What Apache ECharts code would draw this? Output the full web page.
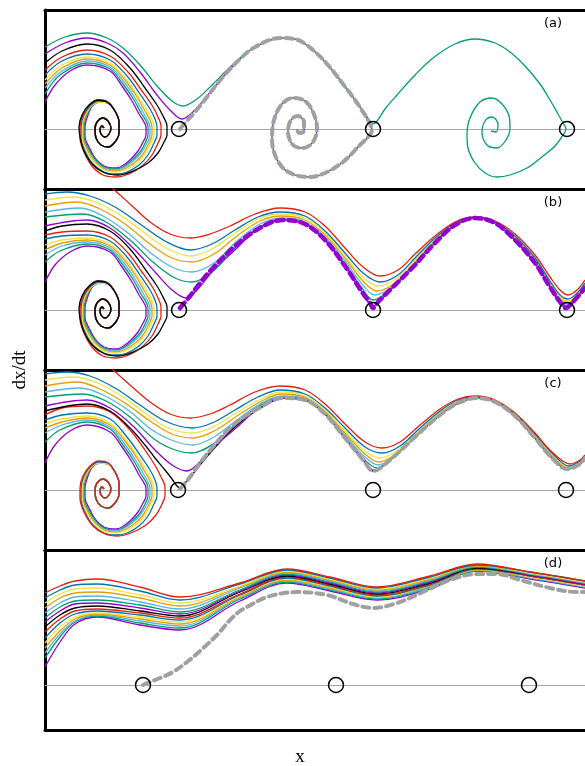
<!DOCTYPE html>
<html><head><meta charset="utf-8">
<script src="https://cdn.jsdelivr.net/npm/echarts@6/dist/echarts.min.js"></script>
<style>html,body{margin:0;padding:0;background:#fff}#c{width:585px;height:766px}</style>
</head><body><div id="c"></div><script>
// x: position along the axis, v: dx/dt (chart units)
// ---------- panel (a) ----------
const aGreenTop=[[45,82],[65,92],[87,96],[107,91],[123,81],[140,64],[157,43],[172,28],[183,23],[197,30],[213,45],[227,59],[240,71],[255,82],[280,91],[298,89],[313,79],[328,64],[343,45],[355,29],[365,15],[370,8],[373,5],[377,8],[385,20],[397,34],[415,54],[433,71],[455,85],[475,90],[495,86],[510,77],[525,63],[540,45],[550,29],[558,15],[563,6],[566,0],[563,-6],[555,-17],[543,-27],[527,-39],[510,-46],[497,-48],[485,-44],[475,-34],[468,-19],[467,-6],[470,11],[480,27],[492,31],[502,25],[509,13],[510,1],[506,-11],[497,-19],[487,-16],[482,-3],[485,8],[492,12],[498,5],[496,-3],[491,-2]];
const aPurpleTop=[[45,75],[65,86],[87,91],[107,86],[123,76],[140,57],[157,34],[170,19],[182,10],[193,17],[207,33],[222,51],[240,70],[255,82],[280,91],[298,89],[313,79],[328,64],[343,45],[355,29],[365,14],[370,5],[372,-1],[368,-8],[360,-16],[343,-33],[325,-44],[310,-48],[295,-46],[283,-39],[275,-26],[272,-11],[274,9],[282,25],[293,31],[305,28],[313,17],[317,1],[313,-13],[303,-19],[293,-16],[288,-3],[291,9],[298,13],[304,7],[304,-2],[299,-4],[297,0]];
const aManifold=[[180,0],[185,6],[195,17],[207,32],[222,51],[240,70],[255,82],[280,91],[298,89],[313,79],[328,64],[343,45],[355,29],[365,14],[370,5],[372,-1],[368,-8],[360,-16],[343,-33],[325,-44],[310,-48],[295,-46],[283,-39],[275,-26],[272,-11],[274,9],[282,25],[293,31],[305,28],[313,17],[317,1],[313,-13],[303,-19],[293,-16],[288,-3],[291,9],[298,13],[304,7],[304,-2],[299,-4],[297,0]];
const aBlack=[[45,66],[62,78],[87,85],[110,79],[130,61],[145,41],[157,24],[163,13],[167,3],[167,-6],[164,-13],[158,-24],[148,-34],[133,-42],[118,-46],[105,-44],[93,-36],[84,-22],[80,-8],[79,2],[82,14],[89,24],[98,29],[107,27],[115,18],[119,7],[119,-4],[115,-13],[108,-18],[101,-16],[96,-9],[95,0],[97,7],[103,11],[108,8],[111,1],[109,-5],[105,-8],[101,-5],[100,0],[102,3],[104,1]];
const aRed=[[45,59],[62,72],[87,79],[110,73],[128,57],[142,38],[153,22],[158,12],[161,3],[161,-6],[158,-14],[152,-26],[142,-37],[129,-45],[116,-48],[103,-46],[92,-37],[84,-23],[80,-9],[80,2],[83,14],[90,24],[99,29],[108,27],[115,18],[119,7],[119,-4],[115,-13],[108,-18],[101,-16],[96,-9],[95,0],[97,7],[103,11],[108,8],[111,1],[109,-5],[105,-8],[101,-5],[100,0],[102,3],[104,1]];
const aBlue=[[45,54],[62,68],[87,75],[110,69],[127,53],[140,35],[150,20],[155,10],[157,2],[157,-6],[154,-14],[148,-26],[139,-36],[127,-43],[116,-45],[104,-43],[93,-35],[85,-22],[81,-9],[81,2],[84,14],[91,24],[99,28],[108,27],[115,18],[119,7],[119,-4],[115,-13],[108,-18],[101,-16],[96,-9],[95,0],[97,7],[103,11],[108,8],[111,1],[109,-5],[105,-8],[101,-5],[100,0],[102,3],[104,1]];
const aYellow=[[45,49],[62,64],[87,72],[110,66],[126,50],[138,33],[147,19],[152,9],[154,2],[154,-6],[151,-14],[145,-25],[136,-35],[125,-41],[116,-43],[104,-41],[94,-33],[86,-21],[82,-9],[82,2],[85,14],[92,24],[99,27],[108,26],[115,18],[119,7],[119,-4],[115,-13],[108,-18],[101,-16],[96,-9],[95,0],[97,7],[103,11],[108,8],[111,1],[109,-5],[105,-8],[101,-5],[100,0],[102,3],[104,1]];
const aOrange=[[45,45],[62,61],[87,70],[110,64],[125,49],[137,32],[145,18],[150,9],[152,2],[152,-6],[149,-14],[143,-25],[134,-34],[124,-40],[116,-42],[104,-40],[94,-32],[87,-20],[83,-8],[83,2],[86,14],[92,24],[99,27],[108,26],[115,18],[119,7],[119,-4],[115,-13],[108,-18],[101,-16],[96,-9],[95,0],[97,7],[103,11],[108,8],[111,1],[109,-5],[105,-8],[101,-5],[100,0],[102,3],[104,1]];
const aSky=[[45,41],[62,58],[87,68],[110,62],[124,47],[135,31],[143,17],[148,8],[150,2],[150,-6],[147,-14],[141,-24],[132,-33],[123,-39],[116,-41],[104,-39],[94,-31],[87,-20],[83,-8],[83,2],[86,14],[92,24],[99,27],[108,26],[115,18],[119,7],[119,-4],[115,-13],[108,-18],[101,-16],[96,-9],[95,0],[97,7],[103,11],[108,8],[111,1],[109,-5],[105,-8],[101,-5],[100,0],[102,3],[104,1]];
const aGreen=[[45,35],[60,54],[87,66],[110,60],[123,45],[134,29],[141,16],[146,8],[148,2],[148,-6],[145,-14],[140,-23],[131,-32],[123,-38],[116,-40],[104,-38],[95,-30],[88,-19],[84,-8],[84,2],[87,14],[93,24],[99,27],[108,26],[115,18],[119,7],[119,-4],[115,-13],[108,-18],[101,-16],[96,-9],[95,0],[97,7],[103,11],[108,8],[111,1],[109,-5],[105,-8],[101,-5],[100,0],[102,3],[104,1]];
const aPurple=[[45,27],[55,44],[70,58],[87,64],[110,58],[122,43],[132,28],[139,15],[144,7],[146,2],[146,-6],[143,-13],[138,-22],[130,-31],[122,-37],[116,-39],[104,-37],[95,-29],[89,-18],[85,-8],[85,2],[88,14],[93,24],[100,27],[108,26],[115,18],[119,7],[119,-4],[115,-13],[108,-18],[101,-16],[96,-9],[95,0],[97,7],[103,11],[108,8],[111,1],[109,-5],[105,-8],[101,-5],[100,0],[102,3],[104,1]];
const saddlesA=[[179,0],[373,0],[567,0]];
// ---------- panel (b) ----------
const bRedTop=[[45,135],[70,140],[90,138],[113,121],[130,106],[150,88],[170,76],[190,72],[210,76],[230,84],[255,96],[280,102],[305,98],[325,84],[345,62],[362,44],[380,34],[398,40],[415,56],[435,74],[455,88],[475,93],[495,89],[515,76],[535,55],[550,33],[560,20],[568,15],[577,20],[585,30]];
const bBlueTop=[[45,116],[67,118],[90,114],[115,103],[140,86],[165,69],[190,60],[212,66],[235,80],[258,93],[280,98],[305,94],[325,79],[345,57],[363,37],[380,28],[398,35],[415,52],[435,72],[455,87],[475,92],[495,88],[515,74],[535,52],[550,29],[560,15],[568,11],[577,17],[585,27]];
const bYellowTop=[[45,110],[73,113],[95,108],[120,95],[145,77],[168,61],[190,54],[212,61],[235,77],[258,91],[280,96],[305,92],[325,77],[345,54],[363,33],[378,24],[396,31],[415,50],[435,71],[455,87],[475,92],[495,88],[515,73],[535,51],[550,28],[560,13],[568,9],[577,16],[585,26]];
const bOrangeTop=[[45,104],[77,108],[100,101],[125,86],[150,66],[172,52],[192,48],[214,56],[237,74],[260,89],[281,94],[305,90],[325,75],[345,52],[362,30],[377,19],[395,27],[415,48],[435,70],[455,86],[475,92],[495,87],[515,72],[535,50],[550,27],[560,12],[567,7],[576,14],[585,25]];
const bSkyTop=[[45,98],[80,102],[103,94],[128,77],[152,56],[174,42],[192,38],[214,47],[237,69],[260,86],[282,92],[305,88],[325,73],[345,49],[362,26],[375,15],[393,24],[415,46],[435,69],[455,86],[475,92],[495,87],[515,72],[535,49],[550,26],[560,10],[567,6],[576,13],[585,24]];
const bGreenTop=[[45,93],[83,96],[106,88],[130,70],[154,47],[175,32],[192,28],[212,38],[235,62],[258,82],[282,91],[305,87],[325,71],[345,46],[362,22],[373,10],[390,20],[413,44],[435,68],[455,85],[475,92],[495,87],[515,71],[535,48],[550,25],[560,9],[567,4],[576,12],[585,23]];
const bPurpleTop=[[45,84],[87,90],[110,82],[133,62],[155,38],[172,20],[186,12],[197,20],[212,38],[235,60],[258,81],[283,90],[305,86],[325,70],[345,44],[362,18],[373,4],[388,18],[413,43],[435,67],[455,85],[475,92],[495,87],[515,70],[535,47],[550,23],[560,7],[567,2],[576,11],[585,22]];
const bManifold=[[180,2],[190,14],[200,27],[212,41],[233,62],[258,81],[283,90],[305,86],[325,70],[345,44],[362,18],[370,7],[373,2],[378,8],[390,20],[413,43],[435,67],[455,85],[475,92],[495,87],[515,70],[535,47],[550,23],[560,8],[566,2],[572,7],[585,22]];
const bBlack=[[45,79],[62,84],[87,86],[110,79],[130,61],[145,41],[157,24],[163,13],[167,3],[167,-6],[164,-13],[158,-24],[148,-34],[133,-42],[118,-46],[105,-44],[93,-36],[84,-22],[80,-8],[79,2],[82,14],[89,24],[98,29],[107,27],[115,18],[119,7],[119,-4],[115,-13],[108,-18],[101,-16],[96,-9],[95,0],[97,7],[103,11],[108,8],[111,1],[109,-5],[105,-8],[101,-5],[100,0],[102,3],[104,1]];
const bRed=[[45,75],[62,78],[87,79],[110,73],[128,57],[142,38],[153,22],[158,12],[161,3],[161,-6],[158,-14],[152,-26],[142,-37],[129,-45],[116,-48],[103,-46],[92,-37],[84,-23],[80,-9],[80,2],[83,14],[90,24],[99,29],[108,27],[115,18],[119,7],[119,-4],[115,-13],[108,-18],[101,-16],[96,-9],[95,0],[97,7],[103,11],[108,8],[111,1],[109,-5],[105,-8],[101,-5],[100,0],[102,3],[104,1]];
const bBlue=[[45,71],[62,74],[87,75],[110,69],[127,53],[140,35],[150,20],[155,10],[157,2],[157,-6],[154,-14],[148,-26],[139,-36],[127,-43],[116,-45],[104,-43],[93,-35],[85,-22],[81,-9],[81,2],[84,14],[91,24],[99,28],[108,27],[115,18],[119,7],[119,-4],[115,-13],[108,-18],[101,-16],[96,-9],[95,0],[97,7],[103,11],[108,8],[111,1],[109,-5],[105,-8],[101,-5],[100,0],[102,3],[104,1]];
const bYellow=[[45,65],[62,70],[87,72],[110,66],[126,50],[138,33],[147,19],[152,9],[154,2],[154,-6],[151,-14],[145,-25],[136,-35],[125,-41],[116,-43],[104,-41],[94,-33],[86,-21],[82,-9],[82,2],[85,14],[92,24],[99,27],[108,26],[115,18],[119,7],[119,-4],[115,-13],[108,-18],[101,-16],[96,-9],[95,0],[97,7],[103,11],[108,8],[111,1],[109,-5],[105,-8],[101,-5],[100,0],[102,3],[104,1]];
const bOrange=[[45,60],[62,67],[87,70],[110,64],[125,49],[137,32],[145,18],[150,9],[152,2],[152,-6],[149,-14],[143,-25],[134,-34],[124,-40],[116,-42],[104,-40],[94,-32],[87,-20],[83,-8],[83,2],[86,14],[92,24],[99,27],[108,26],[115,18],[119,7],[119,-4],[115,-13],[108,-18],[101,-16],[96,-9],[95,0],[97,7],[103,11],[108,8],[111,1],[109,-5],[105,-8],[101,-5],[100,0],[102,3],[104,1]];
const bSky=[[45,55],[62,64],[87,68],[110,62],[124,47],[135,31],[143,17],[148,8],[150,2],[150,-6],[147,-14],[141,-24],[132,-33],[123,-39],[116,-41],[104,-39],[94,-31],[87,-20],[83,-8],[83,2],[86,14],[92,24],[99,27],[108,26],[115,18],[119,7],[119,-4],[115,-13],[108,-18],[101,-16],[96,-9],[95,0],[97,7],[103,11],[108,8],[111,1],[109,-5],[105,-8],[101,-5],[100,0],[102,3],[104,1]];
const bGreen=[[45,48],[60,59],[87,66],[110,60],[123,45],[134,29],[141,16],[146,8],[148,2],[148,-6],[145,-14],[140,-23],[131,-32],[123,-38],[116,-40],[104,-38],[95,-30],[88,-19],[84,-8],[84,2],[87,14],[93,24],[99,27],[108,26],[115,18],[119,7],[119,-4],[115,-13],[108,-18],[101,-16],[96,-9],[95,0],[97,7],[103,11],[108,8],[111,1],[109,-5],[105,-8],[101,-5],[100,0],[102,3],[104,1]];
const bPurple=[[45,28],[55,45],[70,58],[87,64],[110,58],[122,43],[132,28],[139,15],[144,7],[146,2],[146,-6],[143,-13],[138,-22],[130,-31],[122,-37],[116,-39],[104,-37],[95,-29],[89,-18],[85,-8],[85,2],[88,14],[93,24],[100,27],[108,26],[115,18],[119,7],[119,-4],[115,-13],[108,-18],[101,-16],[96,-9],[95,0],[97,7],[103,11],[108,8],[111,1],[109,-5],[105,-8],[101,-5],[100,0],[102,3],[104,1]];
const saddlesB=[[179,0],[373,0],[567,0]];
// ---------- panel (c) ----------
const cRedTop=[[45,135],[70,140],[90,138],[113,120],[130,105],[150,88],[170,76],[190,72],[210,76],[230,85],[255,98],[280,104],[305,100],[325,86],[345,66],[365,48],[382,42],[400,48],[420,65],[440,81],[458,91],[475,94],[495,90],[515,77],[535,57],[552,38],[570,26],[580,30],[585,35]];
const cBlueTop=[[45,116],[67,118],[90,114],[115,102],[140,85],[165,69],[192,62],[212,67],[235,80],[258,93],[280,100],[305,96],[325,82],[345,62],[365,43],[382,37],[400,44],[420,62],[440,79],[458,90],[476,93],[495,89],[515,76],[535,56],[552,37],[569,24],[580,29],[585,34]];
const cYellowTop=[[45,110],[73,113],[95,108],[120,95],[145,77],[168,62],[193,57],[213,63],[236,77],[259,90],[281,98],[305,94],[325,80],[345,59],[365,39],[380,32],[398,40],[420,60],[440,78],[458,89],[476,93],[495,89],[515,76],[535,55],[552,36],[569,23],[580,28],[585,33]];
const cOrangeTop=[[45,104],[77,108],[100,101],[125,87],[150,69],[172,56],[193,52],[214,59],[237,74],[260,88],[281,96],[305,93],[325,79],[345,57],[365,36],[379,28],[397,37],[420,59],[440,77],[458,88],[476,93],[495,89],[515,75],[535,54],[552,35],[568,22],[580,27],[585,33]];
const cSkyTop=[[45,98],[80,102],[103,95],[128,80],[152,60],[174,49],[193,45],[214,53],[237,70],[260,86],[282,94],[305,92],[325,78],[345,55],[364,34],[378,25],[396,35],[420,58],[440,76],[458,88],[476,93],[495,88],[515,75],[535,54],[552,34],[568,22],[580,27],[585,32]];
const cGreenTop=[[45,93],[83,96],[106,89],[130,73],[154,51],[175,40],[192,37],[213,46],[236,66],[259,84],[282,93],[305,91],[325,77],[345,53],[364,31],[377,22],[394,33],[418,56],[440,75],[458,88],[476,92],[495,88],[515,74],[535,53],[552,33],[568,21],[580,26],[585,32]];
const cPurpleTop=[[45,84],[87,90],[110,82],[133,64],[155,40],[172,25],[187,19],[200,28],[215,44],[236,62],[259,82],[283,92],[305,90],[325,76],[345,52],[364,29],[374,20],[390,30],[415,53],[440,75],[458,87],[477,92],[495,88],[515,74],[535,52],[552,32],[567,21],[580,26],[585,32]];
const cBlackSep=[[45,79],[87,86],[110,79],[130,62],[145,45],[155,32],[165,20],[172,11],[177,4],[180,2],[184,6],[192,15],[205,31],[220,48],[236,64],[259,81],[283,92],[305,90],[325,76],[345,52],[364,29],[373,19],[390,30],[415,53],[440,75],[458,87],[477,92],[495,88],[515,74],[535,52],[552,32],[567,21],[580,26],[585,32]];
const cManifold=[[180,1],[190,13],[200,27],[212,42],[233,65],[259,82],[283,92],[305,90],[325,76],[345,52],[364,29],[373,19],[390,30],[415,53],[440,75],[458,87],[477,92],[495,88],[515,74],[535,52],[552,32],[567,21],[580,26],[585,32]];
const cRed=[[45,75],[62,82],[87,84],[110,78],[130,60],[145,40],[156,23],[161,13],[165,3],[165,-6],[162,-14],[156,-25],[146,-35],[131,-43],[118,-46],[105,-44],[93,-36],[84,-22],[80,-8],[80,2],[83,14],[90,24],[99,29],[108,27],[115,18],[119,7],[119,-4],[115,-13],[108,-18],[101,-16],[96,-9],[95,0],[97,7],[103,11],[108,8],[111,1],[109,-5],[105,-8],[101,-5],[100,0],[102,3],[104,1]];
const cBlue=[[45,70],[62,75],[87,77],[110,71],[127,53],[140,35],[150,20],[155,10],[157,2],[157,-6],[154,-14],[148,-26],[139,-36],[127,-43],[116,-45],[104,-43],[93,-35],[85,-22],[81,-9],[81,2],[84,14],[91,24],[99,28],[108,27],[115,18],[119,7],[119,-4],[115,-13],[108,-18],[101,-16],[96,-9],[95,0],[97,7],[103,11],[108,8],[111,1],[109,-5],[105,-8],[101,-5],[100,0],[102,3],[104,1]];
const cYellow=[[45,66],[62,71],[87,74],[110,67],[126,50],[138,33],[147,19],[152,9],[154,2],[154,-6],[151,-14],[145,-25],[136,-35],[125,-41],[116,-43],[104,-41],[94,-33],[86,-21],[82,-9],[82,2],[85,14],[92,24],[99,27],[108,26],[115,18],[119,7],[119,-4],[115,-13],[108,-18],[101,-16],[96,-9],[95,0],[97,7],[103,11],[108,8],[111,1],[109,-5],[105,-8],[101,-5],[100,0],[102,3],[104,1]];
const cOrange=[[45,62],[62,68],[87,72],[110,65],[125,49],[137,32],[145,18],[150,9],[152,2],[152,-6],[149,-14],[143,-25],[134,-34],[124,-40],[116,-42],[104,-40],[94,-32],[87,-20],[83,-8],[83,2],[86,14],[92,24],[99,27],[108,26],[115,18],[119,7],[119,-4],[115,-13],[108,-18],[101,-16],[96,-9],[95,0],[97,7],[103,11],[108,8],[111,1],[109,-5],[105,-8],[101,-5],[100,0],[102,3],[104,1]];
const cSky=[[45,57],[62,65],[87,70],[110,63],[124,47],[135,31],[143,17],[148,8],[150,2],[150,-6],[147,-14],[141,-24],[132,-33],[123,-39],[116,-41],[104,-39],[94,-31],[87,-20],[83,-8],[83,2],[86,14],[92,24],[99,27],[108,26],[115,18],[119,7],[119,-4],[115,-13],[108,-18],[101,-16],[96,-9],[95,0],[97,7],[103,11],[108,8],[111,1],[109,-5],[105,-8],[101,-5],[100,0],[102,3],[104,1]];
const cGreen=[[45,48],[60,60],[87,68],[110,61],[123,45],[134,29],[141,16],[146,8],[148,2],[148,-6],[145,-14],[140,-23],[131,-32],[123,-38],[116,-40],[104,-38],[95,-30],[88,-19],[84,-8],[84,2],[87,14],[93,24],[99,27],[108,26],[115,18],[119,7],[119,-4],[115,-13],[108,-18],[101,-16],[96,-9],[95,0],[97,7],[103,11],[108,8],[111,1],[109,-5],[105,-8],[101,-5],[100,0],[102,3],[104,1]];
const cPurple=[[45,27],[55,45],[70,59],[87,65],[110,58],[122,43],[132,28],[139,15],[144,7],[146,2],[146,-6],[143,-13],[138,-22],[130,-31],[122,-37],[116,-39],[104,-37],[95,-29],[89,-18],[85,-8],[85,2],[88,14],[93,24],[100,27],[108,26],[115,18],[119,7],[119,-4],[115,-13],[108,-18],[101,-16],[96,-9],[95,0],[97,7],[103,11],[108,8],[111,1],[109,-5],[105,-8],[101,-5],[100,0],[102,3],[104,1]];
const saddlesC=[[178,0],[373,0],[566,0]];
// ---------- panel (d) ----------
const dX=[45,60,75,97,140,180,240,287,330,377,430,477,530,585];
const d01=[92,99,104,106,98,88,102,116,108,98,109,121,113,104];
const d02=[87,95,100,101,94,85,101,115,107,97,108,120,113,104];
const d03=[82,91,96,97,90,82,99,114,106,96,107,120,112,103];
const d04=[77,87,92,93,87,79,98,113,105,95,106,119,112,103];
const d05=[72,82,88,89,83,76,97,112,104,94,105,119,111,102];
const d06=[67,78,84,85,80,73,95,111,103,93,104,118,111,102];
const d07=[63,74,81,82,77,71,94,110,102,92,103,118,110,101];
const d08=[58,70,77,79,74,69,93,109,101,91,102,117,110,101];
const d09=[53,66,74,76,72,67,91,108,100,90,101,117,109,100];
const d10=[47,62,71,74,70,65,90,107,99,89,100,116,109,100];
const d11=[42,58,68,72,68,63,89,106,98,88,100,116,108,99];
const d12=[37,54,66,71,66,61,88,105,97,88,99,115,108,99];
const d13=[32,51,64,70,64,59,87,104,96,87,98,115,107,98];
const d14=[27,48,63,69,62,57,86,103,95,86,97,114,107,98];
const d15=[18,43,61,68,60,55,84,102,94,85,96,114,106,97];
const dManifold=[[143,0],[150,3],[160,7],[173,13],[187,23],[200,34],[217,50],[230,65],[240,74],[247,78],[267,88],[297,93],[327,90],[353,81],[373,77],[397,82],[423,93],[450,105],[477,111],[497,111],[520,105],[550,97],[577,93],[585,93]];
const saddlesD=[[143,0],[336,0],[529,0]];

// ---------- styling / assembly ----------
const COL={purple:'#9400D3',green:'#009E73',sky:'#56B4E9',orange:'#E69F00',yellow:'#F0E442',blue:'#0072B2',red:'#E51E10',black:'#000000'};
const dPairs=(vals)=>dX.map((x,i)=>[x,vals[i]]);
const panels=[
 {top:10,height:179,min:-60,max:119,label:'(a)',saddles:saddlesA,manifold:aManifold,mColor:'#A0A0A0',mWidth:4,
  curves:[[aPurple,'purple'],[aGreen,'green'],[aSky,'sky'],[aOrange,'orange'],[aYellow,'yellow'],[aBlue,'blue'],[aRed,'red'],[aBlack,'black'],[aPurpleTop,'purple'],[aGreenTop,'green']]},
 {top:189,height:181,min:-60,max:121,label:'(b)',saddles:saddlesB,manifold:bManifold,mColor:'#9400D3',mWidth:4.5,
  curves:[[bPurple,'purple'],[bGreen,'green'],[bSky,'sky'],[bOrange,'orange'],[bYellow,'yellow'],[bBlue,'blue'],[bRed,'red'],[bBlack,'black'],[bPurpleTop,'purple'],[bGreenTop,'green'],[bSkyTop,'sky'],[bOrangeTop,'orange'],[bYellowTop,'yellow'],[bBlueTop,'blue'],[bRedTop,'red']]},
 {top:370,height:180,min:-60,max:120,label:'(c)',saddles:saddlesC,manifold:cManifold,mColor:'#A0A0A0',mWidth:4,
  curves:[[cPurple,'purple'],[cGreen,'green'],[cSky,'sky'],[cOrange,'orange'],[cYellow,'yellow'],[cBlue,'blue'],[cRed,'red'],[cBlackSep,'black'],[cPurpleTop,'purple'],[cGreenTop,'green'],[cSkyTop,'sky'],[cOrangeTop,'orange'],[cYellowTop,'yellow'],[cBlueTop,'blue'],[cRedTop,'red']]},
 {top:550,height:180,min:-45,max:135,label:'(d)',saddles:saddlesD,manifold:dManifold,mColor:'#A0A0A0',mWidth:4,
  curves:[[dPairs(d15),'purple'],[dPairs(d14),'green'],[dPairs(d13),'sky'],[dPairs(d12),'orange'],[dPairs(d11),'yellow'],[dPairs(d10),'blue'],[dPairs(d09),'red'],[dPairs(d08),'black'],[dPairs(d07),'purple'],[dPairs(d06),'green'],[dPairs(d05),'sky'],[dPairs(d04),'orange'],[dPairs(d03),'yellow'],[dPairs(d02),'blue'],[dPairs(d01),'red']]}
];
const grids=[],xAxes=[],yAxes=[],series=[],graphics=[];
const hidden={axisTick:{show:false},axisLabel:{show:false},splitLine:{show:false}};
const frameLine={show:true,onZero:false,lineStyle:{color:'#000',width:3}};
panels.forEach((p,i)=>{
  grids.push({left:45,width:540,top:p.top,height:p.height,show:false,containLabel:false});
  xAxes.push(Object.assign({type:'value',gridIndex:i,min:45,max:585,position:'bottom',axisLine:{show:true,onZero:true,lineStyle:{color:'#A8A8A8',width:1}}},hidden));
  xAxes.push(Object.assign({type:'value',gridIndex:i,min:45,max:585,position:'top',axisLine:frameLine},hidden));
  xAxes.push(Object.assign({type:'value',gridIndex:i,min:45,max:585,position:'bottom',axisLine:frameLine},hidden));
  yAxes.push(Object.assign({type:'value',gridIndex:i,min:p.min,max:p.max,position:'left',axisLine:frameLine},hidden));
  const xi=3*i;
  p.curves.forEach(([data,c])=>{
    series.push({type:'line',xAxisIndex:xi,yAxisIndex:i,data:data,showSymbol:false,smooth:0.35,clip:true,silent:true,
      lineStyle:{color:COL[c],width:1.3},z:2});
  });
  series.push({type:'line',xAxisIndex:xi,yAxisIndex:i,data:p.manifold,showSymbol:false,smooth:0.35,clip:true,silent:true,
    lineStyle:{color:p.mColor,width:p.mWidth,type:[7,5],cap:'round'},z:3});
  series.push({type:'scatter',xAxisIndex:xi,yAxisIndex:i,data:p.saddles,symbol:'circle',symbolSize:15,silent:true,
    itemStyle:{color:'rgba(0,0,0,0)',borderColor:'#000',borderWidth:1.5,opacity:1},z:4});
  graphics.push({type:'text',x:553,y:p.top+14,style:{text:p.label,fill:'#000',font:'13px "DejaVu Sans"',textAlign:'center',textVerticalAlign:'middle'}});
});
graphics.push({type:'text',x:20,y:370,rotation:Math.PI/2,style:{text:'dx/dt',fill:'#000',font:'19px "Liberation Serif"',textAlign:'center',textVerticalAlign:'middle'}});
graphics.push({type:'text',x:300,y:757,style:{text:'x',fill:'#000',font:'19px "Liberation Serif"',textAlign:'center',textVerticalAlign:'middle'}});
const chart=echarts.init(document.getElementById('c'));
chart.setOption({animation:false,grid:grids,xAxis:xAxes,yAxis:yAxes,series:series,graphic:graphics});
</script></body></html>
